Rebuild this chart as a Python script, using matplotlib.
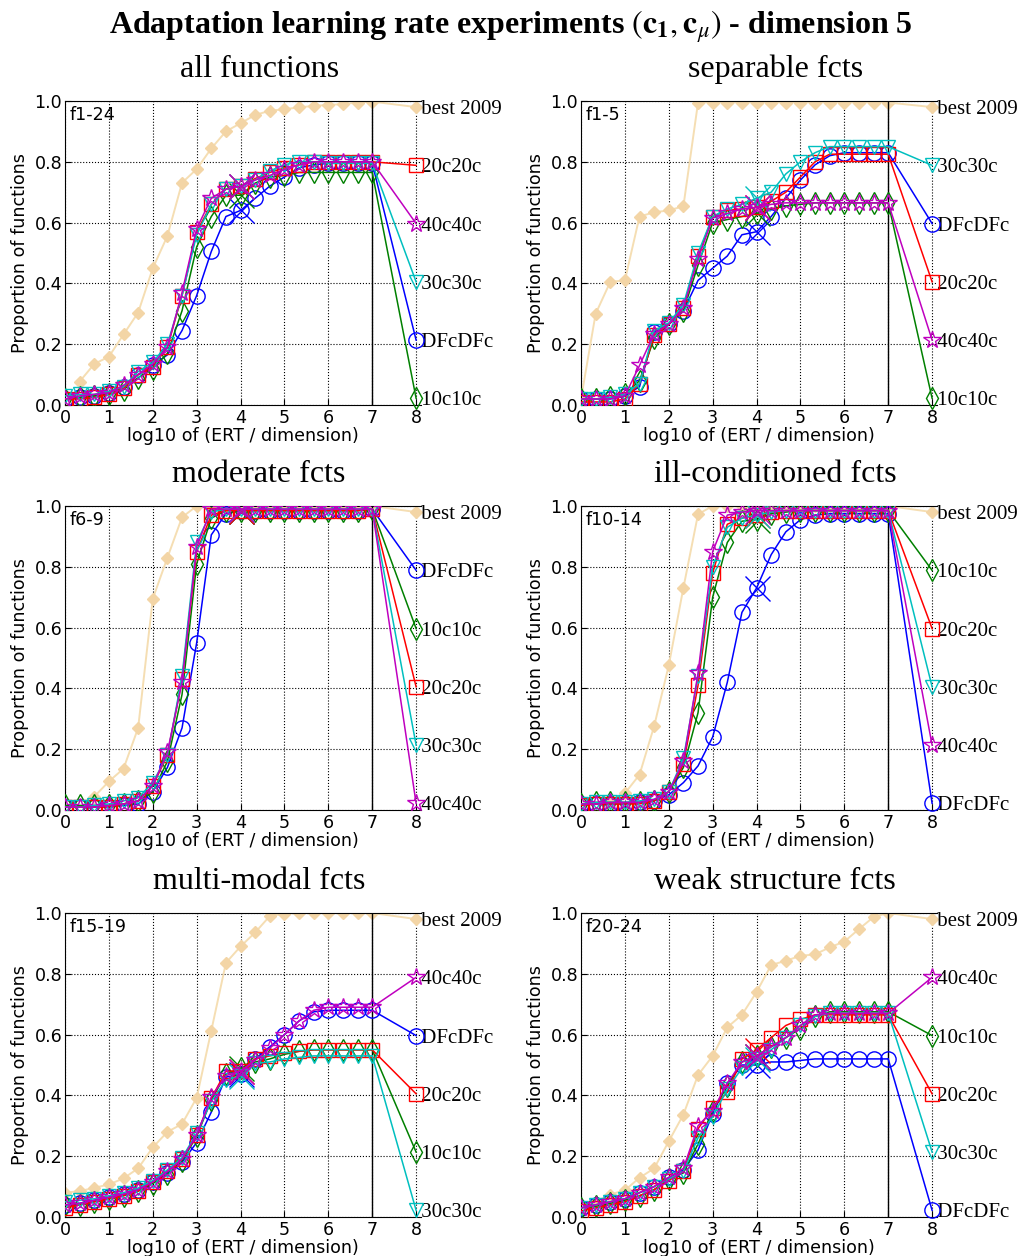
import numpy as np
import matplotlib
matplotlib.use("Agg")
import matplotlib.pyplot as plt

plt.rcParams['mathtext.fontset'] = 'stix'

# ---------------- data ----------------
# ECDF values evaluated at log10(ERT/dim) = 0, 1/3, 2/3, ..., 7
n_pts = 22
algs = ['DFcDFc', '10c10c', '20c20c', '30c30c', '40c40c']
alg_colors = ['b', 'g', 'r', 'c', 'm']
alg_markers = ['o', 'd', 's', 'v', '*']
maxevals_x = [4.0, 4.0, 4.0, 4.0, 4.0]   # median max evaluations (cross)

nan = np.nan
titles = ['all functions', 'separable fcts', 'moderate fcts',
          'ill-conditioned fcts', 'multi-modal fcts', 'weak structure fcts']
groups = ['f1-24', 'f1-5', 'f6-9', 'f10-14', 'f15-19', 'f20-24']

# panel 1: f1-24
p1_best = [nan, 0.077, 0.135, 0.159, 0.232, 0.304, 0.45, 0.556, 0.731, 0.776, 0.844,
           0.9, 0.927, 0.954, 0.968, 0.973, 0.979, 0.984, 0.987, 0.99, 0.995, 0.998]
p1_dfc = [0.02, 0.025, 0.03, 0.04, 0.06, 0.10, 0.13, 0.165, 0.245, 0.36, 0.505, 0.62,
          0.64, 0.68, 0.72, 0.75, 0.78, 0.79, 0.795, 0.795, 0.795, 0.795]
p1_10c = [0.02, 0.025, 0.03, 0.035, 0.05, 0.09, 0.12, 0.17, 0.31, 0.52, 0.62, 0.69,
          0.69, 0.73, 0.75, 0.755, 0.765, 0.765, 0.765, 0.765, 0.765, 0.765]
p1_20c = [0.02, 0.02, 0.025, 0.035, 0.055, 0.10, 0.125, 0.19, 0.36, 0.57, 0.66, 0.71,
          0.72, 0.745, 0.765, 0.78, 0.79, 0.80, 0.80, 0.80, 0.80, 0.80]
p1_30c = [0.03, 0.035, 0.035, 0.045, 0.06, 0.11, 0.14, 0.20, 0.36, 0.56, 0.66, 0.71,
          0.72, 0.74, 0.77, 0.79, 0.80, 0.80, 0.795, 0.795, 0.795, 0.795]
p1_40c = [0.02, 0.03, 0.035, 0.04, 0.065, 0.10, 0.135, 0.19, 0.37, 0.58, 0.68, 0.71,
          0.72, 0.74, 0.755, 0.775, 0.79, 0.80, 0.80, 0.80, 0.80, 0.80]
p1_order = ['20c20c', '40c40c', '30c30c', 'DFcDFc', '10c10c']

# panel 2: f1-5
p2_best = [0.02, 0.30, 0.405, 0.41, 0.62, 0.634, 0.64, 0.654, 0.995, 0.995, 0.995,
           0.995, 0.995, 0.995, 0.995, 0.995, 0.995, 0.995, 0.995, 0.995, 0.995, 0.995]
p2_dfc = [0.02, 0.02, 0.02, 0.03, 0.06, 0.24, 0.265, 0.31, 0.41, 0.45, 0.49, 0.56,
          0.57, 0.62, 0.68, 0.74, 0.79, 0.82, 0.83, 0.83, 0.83, 0.83]
p2_10c = [0.02, 0.02, 0.025, 0.035, 0.08, 0.22, 0.265, 0.31, 0.46, 0.60, 0.61, 0.62,
          0.63, 0.645, 0.655, 0.66, 0.665, 0.665, 0.665, 0.665, 0.665, 0.665]
p2_20c = [0.01, 0.01, 0.01, 0.02, 0.07, 0.23, 0.265, 0.32, 0.49, 0.62, 0.64, 0.645,
          0.65, 0.67, 0.70, 0.75, 0.80, 0.825, 0.825, 0.825, 0.825, 0.825]
p2_30c = [0.02, 0.02, 0.025, 0.035, 0.07, 0.245, 0.27, 0.33, 0.50, 0.62, 0.645, 0.66,
          0.68, 0.70, 0.76, 0.80, 0.83, 0.85, 0.85, 0.85, 0.85, 0.85]
p2_40c = [0.02, 0.02, 0.02, 0.03, 0.13, 0.235, 0.265, 0.32, 0.48, 0.615, 0.63, 0.645,
          0.65, 0.66, 0.665, 0.665, 0.665, 0.665, 0.665, 0.665, 0.665, 0.665]
p2_order = ['30c30c', 'DFcDFc', '20c20c', '40c40c', '10c10c']

# panel 3: f6-9
p3_best = [nan, nan, 0.044, 0.094, 0.136, 0.27, 0.695, 0.83, 0.963, 1.0, 1.0,
           1.0, 1.0, 1.0, 1.0, 1.0, 1.0, 1.0, 1.0, 1.0, 1.0, 1.0]
p3_dfc = [0.01, 0.01, 0.01, 0.01, 0.015, 0.02, 0.06, 0.14, 0.27, 0.55, 0.905, 0.975,
          0.985, 0.985, 0.985, 0.985, 0.985, 0.985, 0.985, 0.985, 0.985, 0.99]
p3_10c = [0.015, 0.015, 0.015, 0.015, 0.02, 0.03, 0.06, 0.16, 0.38, 0.81, 0.96, 0.985,
          0.985, 0.985, 0.985, 0.985, 0.985, 0.985, 0.985, 0.985, 0.985, 0.99]
p3_20c = [0.01, 0.01, 0.01, 0.01, 0.02, 0.03, 0.08, 0.18, 0.43, 0.85, 0.97, 0.985,
          0.985, 0.985, 0.985, 0.985, 0.985, 0.985, 0.985, 0.985, 0.985, 0.99]
p3_30c = [0.01, 0.01, 0.015, 0.02, 0.03, 0.04, 0.09, 0.18, 0.44, 0.88, 0.98, 0.99,
          0.99, 0.99, 0.99, 0.99, 0.99, 0.99, 0.99, 0.99, 0.99, 0.99]
p3_40c = [0.01, 0.01, 0.01, 0.015, 0.02, 0.03, 0.08, 0.19, 0.42, 0.865, 0.99, 0.99,
          0.99, 0.99, 0.99, 0.99, 0.99, 0.99, 0.99, 0.99, 0.99, 0.99]
p3_order = ['DFcDFc', '10c10c', '20c20c', '30c30c', '40c40c']

# panel 4: f10-14
p4_best = [nan, nan, 0.03, 0.055, 0.116, 0.276, 0.476, 0.731, 0.973, 1.0, 1.0,
           1.0, 1.0, 1.0, 1.0, 1.0, 1.0, 1.0, 1.0, 1.0, 1.0, 1.0]
p4_dfc = [0.02, 0.02, 0.02, 0.02, 0.025, 0.03, 0.05, 0.09, 0.145, 0.24, 0.42, 0.65,
          0.73, 0.84, 0.915, 0.955, 0.97, 0.975, 0.975, 0.975, 0.975, 0.975]
p4_10c = [0.02, 0.025, 0.025, 0.025, 0.025, 0.03, 0.06, 0.14, 0.32, 0.70, 0.88, 0.95,
          0.955, 0.975, 0.98, 0.985, 0.985, 0.985, 0.985, 0.985, 0.985, 0.985]
p4_20c = [0.015, 0.02, 0.02, 0.02, 0.02, 0.03, 0.06, 0.15, 0.41, 0.78, 0.94, 0.96,
          0.97, 0.98, 0.985, 0.985, 0.985, 0.985, 0.985, 0.985, 0.985, 0.985]
p4_30c = [0.02, 0.025, 0.025, 0.025, 0.03, 0.035, 0.06, 0.17, 0.44, 0.80, 0.93, 0.96,
          0.97, 0.98, 0.985, 0.985, 0.985, 0.985, 0.985, 0.985, 0.985, 0.985]
p4_40c = [0.02, 0.02, 0.025, 0.025, 0.025, 0.035, 0.06, 0.16, 0.45, 0.85, 0.97, 0.98,
          0.985, 0.985, 0.985, 0.985, 0.985, 0.985, 0.985, 0.985, 0.985, 0.985]
p4_order = ['10c10c', '20c20c', '30c30c', '40c40c', 'DFcDFc']

# panel 5: f15-19
p5_best = [0.08, 0.085, 0.096, 0.107, 0.127, 0.16, 0.229, 0.28, 0.306, 0.392, 0.613,
           0.836, 0.89, 0.936, 0.99, 0.998, 1.0, 1.0, 1.0, 1.0, 1.0, 1.0]
p5_dfc = [0.04, 0.045, 0.055, 0.065, 0.075, 0.09, 0.115, 0.145, 0.18, 0.245, 0.345, 0.46,
          0.47, 0.52, 0.56, 0.60, 0.645, 0.675, 0.68, 0.68, 0.68, 0.68]
p5_10c = [0.04, 0.04, 0.05, 0.06, 0.07, 0.085, 0.11, 0.14, 0.185, 0.265, 0.385, 0.47,
          0.49, 0.51, 0.52, 0.535, 0.545, 0.55, 0.55, 0.55, 0.55, 0.55]
p5_20c = [0.03, 0.04, 0.05, 0.06, 0.07, 0.085, 0.115, 0.15, 0.19, 0.27, 0.39, 0.48,
          0.48, 0.52, 0.53, 0.54, 0.545, 0.55, 0.55, 0.55, 0.55, 0.55]
p5_30c = [0.05, 0.055, 0.06, 0.07, 0.08, 0.095, 0.12, 0.155, 0.195, 0.275, 0.38, 0.45,
          0.465, 0.505, 0.51, 0.52, 0.525, 0.53, 0.53, 0.53, 0.53, 0.53]
p5_40c = [0.04, 0.045, 0.055, 0.065, 0.075, 0.09, 0.115, 0.15, 0.19, 0.27, 0.395, 0.465,
          0.48, 0.515, 0.555, 0.60, 0.645, 0.68, 0.69, 0.69, 0.69, 0.69]
p5_order = ['40c40c', 'DFcDFc', '20c20c', '10c10c', '30c30c']

# panel 6: f20-24
p6_best = [nan, 0.05, 0.074, 0.088, 0.129, 0.16, 0.249, 0.337, 0.467, 0.53, 0.624,
           0.665, 0.74, 0.829, 0.843, 0.859, 0.864, 0.887, 0.906, 0.947, 0.987, 1.0]
p6_dfc = [0.03, 0.04, 0.05, 0.06, 0.08, 0.10, 0.13, 0.155, 0.22, 0.34, 0.44, 0.50,
          0.50, 0.51, 0.51, 0.515, 0.52, 0.52, 0.52, 0.52, 0.52, 0.52]
p6_10c = [0.03, 0.035, 0.045, 0.055, 0.07, 0.09, 0.125, 0.145, 0.24, 0.35, 0.43, 0.51,
          0.53, 0.56, 0.59, 0.62, 0.66, 0.675, 0.675, 0.675, 0.675, 0.675]
p6_20c = [0.02, 0.03, 0.04, 0.05, 0.07, 0.09, 0.12, 0.15, 0.29, 0.36, 0.41, 0.52,
          0.55, 0.59, 0.63, 0.65, 0.665, 0.665, 0.665, 0.665, 0.665, 0.665]
p6_30c = [0.03, 0.04, 0.05, 0.06, 0.08, 0.10, 0.125, 0.15, 0.26, 0.33, 0.42, 0.49,
          0.52, 0.55, 0.59, 0.63, 0.66, 0.67, 0.67, 0.67, 0.67, 0.67]
p6_40c = [0.03, 0.04, 0.05, 0.06, 0.08, 0.10, 0.13, 0.16, 0.30, 0.35, 0.44, 0.51,
          0.53, 0.56, 0.59, 0.63, 0.665, 0.67, 0.67, 0.67, 0.67, 0.67]
p6_order = ['40c40c', '10c10c', '20c20c', '30c30c', 'DFcDFc']

panels = [
    (p1_best, [p1_dfc, p1_10c, p1_20c, p1_30c, p1_40c], p1_order),
    (p2_best, [p2_dfc, p2_10c, p2_20c, p2_30c, p2_40c], p2_order),
    (p3_best, [p3_dfc, p3_10c, p3_20c, p3_30c, p3_40c], p3_order),
    (p4_best, [p4_dfc, p4_10c, p4_20c, p4_30c, p4_40c], p4_order),
    (p5_best, [p5_dfc, p5_10c, p5_20c, p5_30c, p5_40c], p5_order),
    (p6_best, [p6_dfc, p6_10c, p6_20c, p6_30c, p6_40c], p6_order),
]

# ---------------- figure ----------------
W, H = 1021, 1256
fig = plt.figure(figsize=(W / 100, H / 100), dpi=100)

lefts_px = [65, 581]
bottoms_px = [405, 810, 1217]
ax_w_px = 355.5
ax_h_px = 304

xg = np.arange(n_pts) / 3.0
label_y = np.linspace(0.98, 0.022, 6)
best_col = '#F5DEB3'
best_mcol = '#F3D5A6'
serif = 'Liberation Serif'
tick_fs = 12.6

for i, (best, series, order) in enumerate(panels):
    r, c = divmod(i, 2)
    ax = fig.add_axes([lefts_px[c] / W, 1 - bottoms_px[r] / H, ax_w_px / W, ax_h_px / H])
    ax.set_xlim(0, 8.1)
    ax.set_ylim(0, 1)
    ax.grid(True, linestyle=':', color='k', linewidth=0.8)
    ax.set_axisbelow(True)
    ax.spines['right'].set_visible(False)
    ax.set_xticks(range(9))
    ax.set_yticks([0, 0.2, 0.4, 0.6, 0.8, 1.0])
    ax.set_yticklabels(['0.0', '0.2', '0.4', '0.6', '0.8', '1.0'])
    ax.tick_params(direction='in', labelsize=tick_fs, length=4, right=False, top=False)
    ax.tick_params(axis='y', pad=2)
    ax.tick_params(axis='x', pad=3)
    ax.set_xlabel('log10 of (ERT / dimension)', fontsize=tick_fs, labelpad=0)
    ax.set_ylabel('Proportion of functions', fontsize=tick_fs, labelpad=4)
    ax.set_title(titles[i], fontsize=23, family=serif, pad=17, x=0.546)
    ax.text(0.012, 0.985, groups[i], transform=ax.transAxes, ha='left', va='top',
            fontsize=tick_fs)
    ax.axvline(7, color='k', lw=1.0, zorder=3)

    # best 2009
    best = np.array(best, dtype=float)
    ax.plot(xg, best, color=best_col, lw=1.4, marker='D', ms=6.5,
            mfc=best_mcol, mec=best_mcol, zorder=2, clip_on=True)
    ax.plot([7, 8], [best[-1], label_y[0]], color=best_col, lw=1.4, zorder=2)
    ax.plot([8], [label_y[0]], marker='D', ms=6.5, color=best_mcol, zorder=2, clip_on=False)
    ax.text(8, label_y[0], ' best 2009', family=serif, fontsize=15, ha='left',
            va='center_baseline', clip_on=False)

    for j, (name, col, mk) in enumerate(zip(algs, alg_colors, alg_markers)):
        y = np.array(series[j], dtype=float)
        ms = 13 if mk == '*' else (11 if mk in ('o', 'd') else 10.5)
        z = 4 + j
        ax.plot(xg, y, color=col, lw=1.1, marker=mk, ms=ms, mfc='none', mec=col,
                mew=1.0, zorder=z)
        ly = label_y[1 + order.index(name)]
        ax.plot([7, 8], [y[-1], ly], color=col, lw=1.1, zorder=z)
        ax.plot([8], [ly], marker=mk, ms=ms, mfc='none', mec=col, mew=1.0,
                zorder=z, clip_on=False)
        ax.text(8, ly, ' ' + name, family=serif, fontsize=15, ha='left',
                va='center_baseline', clip_on=False)
        cx = maxevals_x[j]
        ax.plot([cx], [np.interp(cx, xg, y)], marker='x', ms=18, color=col,
                mew=1.0, zorder=z)

fig.text(0.5, 1 - 27 / H,
         r'Adaptation learning rate experiments $(\mathbf{c_1}, \mathbf{c}_{\mu})$ - dimension 5',
         ha='center', va='center', fontsize=23, family=serif, weight='bold')

fig.savefig('out.png', dpi=100)
